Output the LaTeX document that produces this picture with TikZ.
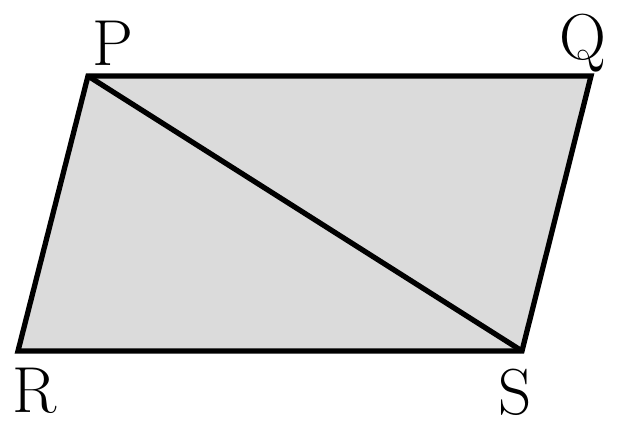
\documentclass[tikz,border=0pt]{standalone}
\usetikzlibrary{positioning}

\tikzset{
  side/.style={line width=3pt,line join=miter},
  vlabel/.style={anchor=base,inner sep=0pt,font=\fontsize{37}{42}\selectfont}
}

\begin{document}
\begin{tikzpicture}
  \useasboundingbox (0,0) rectangle (12.38,8.54);
  \coordinate (P) at (1.76,7.02);
  \coordinate (Q) at (11.82,7.02);
  \coordinate (S) at (10.44,1.52);
  \coordinate (R) at (0.36,1.52);
  \filldraw[side,fill=black!14] (P) -- (Q) -- (S) -- (R) -- cycle;
  \draw[side] (P) -- (S);
  \node[vlabel] (lp) at (2.26,7.22) {P};
  \node[vlabel] (lq) at (11.66,7.34) {Q};
  \node[vlabel] (lr) at (0.70,0.30) {R};
  \node[vlabel] (ls) at (10.30,0.26) {S};
\end{tikzpicture}
\end{document}
